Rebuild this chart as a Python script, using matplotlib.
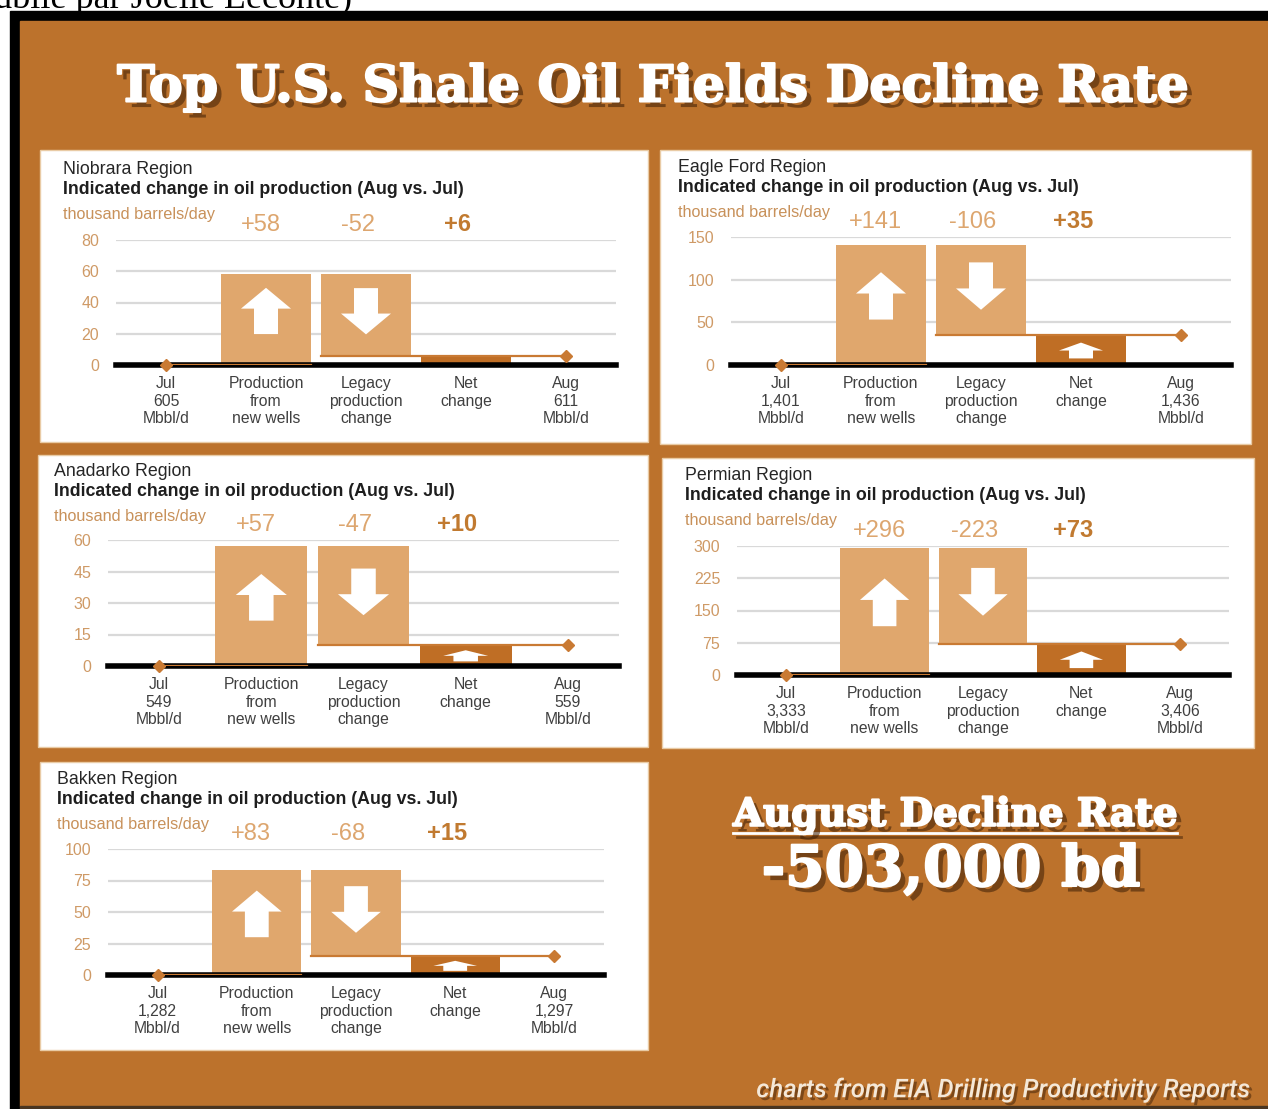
import matplotlib
matplotlib.use('Agg')
import matplotlib.pyplot as plt
import matplotlib.patheffects as pe
from matplotlib.patches import Rectangle, Polygon
from matplotlib.transforms import blended_transform_factory

# Donnees (milliers de barils/jour)
regions = ['Niobrara', 'Eagle Ford', 'Anadarko', 'Permian', 'Bakken']
new_wells = [58, 141, 57, 296, 83]
legacy_change = [-52, -106, -47, -223, -68]
net_change = [6, 35, 10, 73, 15]
jul_prod = ['605', '1,401', '549', '3,333', '1,282']
aug_prod = ['611', '1,436', '559', '3,406', '1,297']
y_ticks = [[0, 20, 40, 60, 80], [0, 50, 100, 150], [0, 15, 30, 45, 60],
           [0, 75, 150, 225, 300], [0, 25, 50, 75, 100]]
middle_labels = ['Production\nfrom\nnew wells', 'Legacy\nproduction\nchange', 'Net\nchange']

# Mise en page (pixels): panneau, zone du graphe, x du texte, y des trois lignes
panels = [(40, 150, 648, 442), (660, 150, 1251, 444), (38, 455, 648, 747),
          (662, 458, 1254, 748), (40, 762, 648, 1050)]
plot_boxes = [(116, 240, 616, 365), (731, 237, 1231, 365), (108, 540, 619, 666),
              (737, 546, 1229, 675), (108, 849, 604, 975)]
text_x = [63, 678, 54, 685, 57]
text_y = [(170, 189, 214), (167, 187, 212), (471, 492, 516), (476, 496, 521), (780, 800, 825)]

W, H = 1268, 1109
ORANGE = '#BC722C'
TAN = '#E0A76D'
DARK = '#BF6E25'
LINE = '#C97A33'
TICK = '#CF9A66'

fig = plt.figure(figsize=(W / 100, H / 100), dpi=100)
bg = fig.add_axes([0, 0, 1, 1])
bg.set_xlim(0, W)
bg.set_ylim(H, 0)
bg.axis('off')

# bandeau blanc du haut + cadre
bg.text(352, 8, '(publié par Joëlle Leconte)', ha='right', va='baseline', fontsize=26,
        family='Liberation Serif', color='black', zorder=0.5)
bg.add_patch(Rectangle((10, 11), W - 10, H - 11, color='black', zorder=1))
bg.add_patch(Rectangle((20, 21), W - 20, 1085, color=ORANGE, zorder=1))
bg.add_patch(Rectangle((20, 1106), W - 20, 3, color='#4A3520', zorder=1))

shadow = [pe.SimplePatchShadow(offset=(4, -4), shadow_rgbFace='#3C1E05', alpha=0.55),
          pe.Stroke(linewidth=1.5, foreground='white'), pe.Normal()]


def fit_width(t, target):
    r = fig.canvas.get_renderer()
    w = t.get_window_extent(r).width
    t.set_fontsize(t.get_fontsize() * target / w)


title = bg.text(653, 88, 'Top U.S. Shale Oil Fields Decline Rate', ha='center', va='center',
                fontsize=40, family='DejaVu Serif', weight='bold', color='white', path_effects=shadow)
fit_width(title, 1070)

t1 = bg.text(955, 815, 'August Decline Rate', ha='center', va='center', fontsize=30,
             family='DejaVu Serif', weight='bold', color='white', path_effects=shadow)
fit_width(t1, 444)
bg.plot([733, 1177], [833, 833], color='white', lw=2,
        path_effects=[pe.SimpleLineShadow(offset=(3, -3), shadow_color='#3C1E05', alpha=0.5), pe.Normal()])
t2 = bg.text(951, 870, '-503,000 bd', ha='center', va='center', fontsize=40,
             family='DejaVu Serif', weight='bold', color='white', path_effects=shadow)
fit_width(t2, 378)
t3 = bg.text(1250, 1090, 'charts from EIA Drilling Productivity Reports', ha='right', va='center',
             fontsize=16, family='Roboto', style='italic', weight='medium', color='#F4E8D8',
             path_effects=[pe.SimplePatchShadow(offset=(2, -2), shadow_rgbFace='#3C1E05', alpha=0.5), pe.Normal()])
fit_width(t3, 495)


def block_arrow(ax, xc, y0, y1, head_w, shaft_w, head_frac, up=True):
    hh = (y1 - y0) * head_frac
    if up:
        pts = [(xc - shaft_w / 2, y0), (xc + shaft_w / 2, y0), (xc + shaft_w / 2, y1 - hh),
               (xc + head_w / 2, y1 - hh), (xc, y1), (xc - head_w / 2, y1 - hh), (xc - shaft_w / 2, y1 - hh)]
    else:
        pts = [(xc - shaft_w / 2, y1), (xc + shaft_w / 2, y1), (xc + shaft_w / 2, y0 + hh),
               (xc + head_w / 2, y0 + hh), (xc, y0), (xc - head_w / 2, y0 + hh), (xc - shaft_w / 2, y0 + hh)]
    ax.add_patch(Polygon(pts, closed=True, color='white', zorder=5, lw=0))


for i, name in enumerate(regions):
    px0, py0, px1, py1 = panels[i]
    bg.add_patch(Rectangle((px0, py0), px1 - px0, py1 - py0, facecolor='white',
                           edgecolor='#E9CBA5', lw=1, zorder=2))
    tx = text_x[i]
    ty = text_y[i]
    bg.text(tx, ty[0], name + ' Region', ha='left', va='center', fontsize=12.8,
            family='Liberation Sans', color='#262626', zorder=3)
    bg.text(tx, ty[1], 'Indicated change in oil production (Aug vs. Jul)', ha='left', va='center',
            fontsize=12.8, family='Liberation Sans', weight='bold', color='#1E1E1E', zorder=3)
    bg.text(tx, ty[2], 'thousand barrels/day', ha='left', va='center', fontsize=11.7,
            family='Liberation Sans', color='#C8915A', zorder=3)

    ax0, ay0, ax1, ay1 = plot_boxes[i]
    ax = fig.add_axes([ax0 / W, 1 - ay1 / H, (ax1 - ax0) / W, (ay1 - ay0) / H])
    ax.set_facecolor('none')
    ymax = y_ticks[i][-1]
    new = new_wells[i]
    net = net_change[i]
    leg = legacy_change[i]

    ax.bar(1, new, width=0.9, color=TAN, zorder=2)
    ax.bar(2, -leg, bottom=net, width=0.9, color=TAN, zorder=2)
    ax.bar(3, net, width=0.9, color=DARK, zorder=2)
    ax.axhline(0, color='black', lw=4, zorder=3, clip_on=False)
    ax.plot([0, 1.45], [0, 0], color=LINE, lw=1.6, zorder=4)
    ax.plot([1.55, 4], [net, net], color=LINE, lw=1.6, zorder=4)
    ax.plot([0, 4], [0, net], 'D', color=LINE, ms=6.5, zorder=6, clip_on=False)

    # fleches blanches
    L = 0.37 * ymax
    c = new / 2 + 0.07 * ymax
    block_arrow(ax, 1, c - L / 2, c + L / 2, 0.5, 0.24, 0.45, up=True)
    c = net + (-leg) / 2 + 0.03 * ymax
    block_arrow(ax, 2, c - L / 2, c + L / 2, 0.5, 0.24, 0.45, up=False)
    if net / ymax > 0.1:
        block_arrow(ax, 3, net * 0.22, net * 0.75, 0.44, 0.24, 0.5, up=True)

    # valeurs au-dessus
    trans = blended_transform_factory(ax.transData, ax.transAxes)
    ax.annotate('%+d' % new, (1, 1), xycoords=trans, xytext=(-4, 11), textcoords='offset points',
                ha='center', va='center', fontsize=17, family='Liberation Sans', color='#DDA66F')
    ax.annotate('%d' % leg, (2, 1), xycoords=trans, xytext=(-6, 11), textcoords='offset points',
                ha='center', va='center', fontsize=17, family='Liberation Sans', color='#DDA66F')
    ax.annotate('%+d' % net, (3, 1), xycoords=trans, xytext=(-6, 11), textcoords='offset points',
                ha='center', va='center', fontsize=17, family='Liberation Sans', weight='bold',
                color='#C17A30')

    ax.set_xlim(-0.5, 4.5)
    ax.set_ylim(0, ymax)
    ax.set_yticks(y_ticks[i])
    ax.set_yticklabels([str(v) for v in y_ticks[i]], fontsize=11.5, family='Liberation Sans', color=TICK)
    labels = ['Jul\n%s\nMbbl/d' % jul_prod[i]] + middle_labels + ['Aug\n%s\nMbbl/d' % aug_prod[i]]
    ax.set_xticks(range(5))
    ax.set_xticklabels(labels, fontsize=11.3, family='Liberation Sans', color='#404040', linespacing=1.2)
    ax.tick_params(axis='x', length=0, pad=8)
    ax.tick_params(axis='y', length=0, pad=12)
    ax.yaxis.grid(True, color='#D9D9D9', lw=1.6)
    ax.set_axisbelow(True)
    for s in ax.spines.values():
        s.set_visible(False)

fig.savefig('out.png', dpi=100)
